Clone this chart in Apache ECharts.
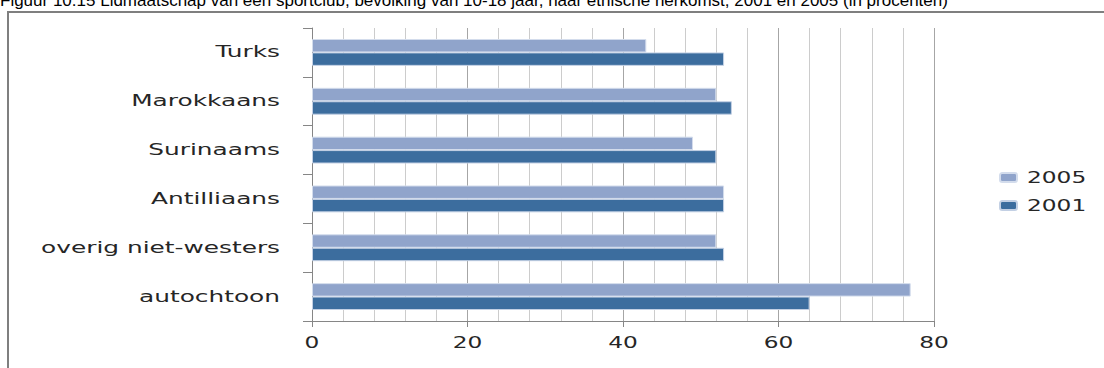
<!DOCTYPE html>
<html>
<head>
<meta charset="utf-8">
<script src="https://cdn.jsdelivr.net/npm/echarts@6/dist/echarts.min.js"></script>
<style>
html,body{margin:0;padding:0;background:#fff;}
#chart{width:1104px;height:368px;}
</style>
</head>
<body>
<div id="chart"></div>
<script>
const titleText = 'Figuur 10.15 Lidmaatschap van een sportclub, bevolking van 10-18 jaar, naar etnische herkomst, 2001 en 2005 (in procenten)';
const categories = ['Turks', 'Marokkaans', 'Surinaams', 'Antilliaans', 'overig niet-westers', 'autochtoon'];
const seriesNames = ['2005', '2001'];
const values2005 = [43, 52, 49, 53, 52, 77];
const values2001 = [53, 54, 52, 53, 53, 64];
const xMin = 0, xMax = 80, xStep = 20;

const chart = echarts.init(document.getElementById('chart'), null, {renderer: 'svg'});
chart.setOption({
  animation: false,
  backgroundColor: '#fff',
  graphic: [
    {type: 'rect', shape: {x: 8, y: 12, width: 1200, height: 400},
     style: {fill: 'none', stroke: '#7f7f7f', lineWidth: 2}, silent: true},
    {type: 'text', x: 0, y: -8,
     style: {text: titleText, font: '17px "Liberation Sans", Arial', fill: '#000', verticalAlign: 'top'}}
  ],
  grid: {left: 312, right: 170, top: 28, bottom: 47, containLabel: false},
  legend: {
    orient: 'vertical', left: 999, top: 170, padding: 0, itemWidth: 17, itemHeight: 9, itemGap: 13,
    data: seriesNames,
    textStyle: {fontFamily: 'DejaVu Sans', fontSize: 15, color: '#262626', padding: [0, 0, 0, 5]},
    selectedMode: false
  },
  xAxis: {
    type: 'value', min: xMin, max: xMax, interval: xStep,
    axisLine: {show: true, lineStyle: {color: '#868686'}},
    axisTick: {show: true, length: 6, lineStyle: {color: '#868686'}},
    axisLabel: {fontFamily: 'DejaVu Sans', fontSize: 15, color: '#262626', margin: 14},
    splitLine: {show: true, lineStyle: {color: '#a6a6a6', width: 1}},
    minorTick: {show: true, splitNumber: 5, length: 0},
    minorSplitLine: {show: true, lineStyle: {color: '#cccccc', width: 1}}
  },
  yAxis: {
    type: 'category', data: categories, inverse: true,
    axisLine: {show: true, lineStyle: {color: '#868686'}},
    axisTick: {show: true, length: 9, lineStyle: {color: '#868686'}},
    axisLabel: {fontFamily: 'DejaVu Sans', fontSize: 15.5, color: '#262626', margin: 32}
  },
  series: [
    {name: '2005', type: 'bar', data: values2005, barGap: '0%', barCategoryGap: '45%',
     itemStyle: {color: '#90a4cb', borderColor: '#d3dcec', borderWidth: 1}},
    {name: '2001', type: 'bar', data: values2001, barGap: '0%', barCategoryGap: '45%',
     itemStyle: {color: '#3c6d9e', borderColor: '#c3d0e4', borderWidth: 1}}
  ]
});

// The reference's labels are drawn in a horizontally stretched face; widen glyphs.
function stretchText() {
  const texts = document.querySelectorAll('#chart svg text');
  texts.forEach(function (el) {
    const st = el.getAttribute('style') || '';
    if (st.indexOf('DejaVu') < 0) return;
    if (el.getAttribute('data-w') && el.getAttribute('textLength')) return;
    const w = el.getComputedTextLength();
    if (!w) return;
    const ratio = st.indexOf('15.5px') >= 0 ? 1.6 : 1.55;
    el.setAttribute('data-w', w);
    el.setAttribute('textLength', (w * ratio).toFixed(1));
    el.setAttribute('lengthAdjust', 'spacingAndGlyphs');
  });
}
chart.on('finished', stretchText);
setTimeout(stretchText, 0);
setTimeout(stretchText, 100);
</script>
</body>
</html>
